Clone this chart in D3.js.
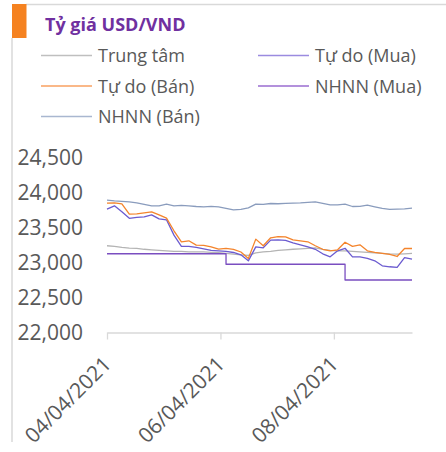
<!DOCTYPE html>
<html><head><meta charset="utf-8">
<script src="https://cdn.jsdelivr.net/npm/d3@7"></script>
<style>body{margin:0;background:#fff;} svg{display:block;font-family:"Open Sans",sans-serif;}</style>
</head><body><svg id="c" width="446" height="452"></svg>
<script>
const dates = ["2021-04-04","2021-04-08","2021-04-12","2021-04-16","2021-04-20","2021-04-24","2021-04-28",
"2021-05-02","2021-05-06","2021-05-10","2021-05-14","2021-05-18","2021-05-22","2021-05-26","2021-05-30",
"2021-06-03","2021-06-07","2021-06-11","2021-06-15","2021-06-19","2021-06-23","2021-06-27",
"2021-07-01","2021-07-05","2021-07-09","2021-07-13","2021-07-17","2021-07-21","2021-07-25","2021-07-29",
"2021-08-02","2021-08-06","2021-08-10","2021-08-14","2021-08-18","2021-08-22","2021-08-26","2021-08-30",
"2021-09-03","2021-09-07","2021-09-11","2021-09-15"];

const trungTam = [23239,23231,23217,23206,23203,23189,23181,23174,23167,23160,23160,23153,23153,23153,23146,23139,23131,23120,23110,23103,23139,23153,23160,23174,23181,23189,23196,23203,23210,23189,23174,23167,23167,23160,23153,23146,23139,23131,23124,23120,23124,23129];
const tuDoMua = [23763,23810,23724,23631,23646,23653,23681,23624,23610,23391,23229,23231,23217,23196,23174,23167,23160,23143,23110,23024,23224,23210,23320,23324,23317,23281,23253,23224,23189,23124,23081,23167,23203,23081,23081,23060,23024,22953,22939,22929,23071,23049];
const tuDoBan = [23849,23853,23839,23691,23696,23710,23724,23681,23634,23453,23296,23310,23249,23246,23224,23191,23203,23189,23150,23057,23334,23239,23353,23371,23367,23324,23310,23296,23239,23189,23167,23181,23289,23231,23253,23167,23146,23131,23117,23086,23200,23200];
const nhnnMua = [23125,23125,23125,23125,23125,23125,23125,23125,23125,23125,23125,23125,23125,23125,23125,23125,22975,22975,22975,22975,22975,22975,22975,22975,22975,22975,22975,22975,22975,22975,22975,22975,22750,22750,22750,22750,22750,22750,22750,22750,22750,22750];
const nhnnBan = [23891,23881,23874,23867,23853,23831,23810,23810,23834,23810,23817,23810,23800,23796,23803,23796,23774,23753,23760,23781,23834,23831,23843,23839,23846,23849,23853,23860,23867,23846,23824,23824,23834,23800,23803,23820,23796,23774,23760,23763,23767,23777];

const yTicks = [22000,22500,23000,23500,24000,24500];
const xTickDates = ["2021-04-04","2021-06-04","2021-08-04"];
const title = "Tỷ giá USD/VND";

const series = [
  {name:"Trung tâm", values:trungTam, color:"#b4b4b4", legend:"#bfbfbf", step:false},
  {name:"Tự do (Mua)", values:tuDoMua, color:"#6b5bd0", legend:"#9b8be0", step:false},
  {name:"Tự do (Bán)", values:tuDoBan, color:"#f4842c", legend:"#f8a060", step:false},
  {name:"NHNN (Mua)", values:nhnnMua, color:"#7a4ec0", legend:"#9a6cd0", step:true},
  {name:"NHNN (Bán)", values:nhnnBan, color:"#8a9cbd", legend:"#a9b7d0", step:false}
];

const parse = d3.timeParse("%Y-%m-%d");
const dts = dates.map(parse);
const svg = d3.select("#c");
svg.append("rect").attr("width",446).attr("height",452).attr("fill","#fff");

// frame
svg.append("line").attr("x1",26).attr("x2",446).attr("y1",4.5).attr("y2",4.5).attr("stroke","#d9d9d9").attr("stroke-width",1.5);
svg.append("line").attr("x1",12).attr("x2",12).attr("y1",38).attr("y2",442).attr("stroke","#d9d9d9").attr("stroke-width",1.5);
svg.append("rect").attr("x",12).attr("y",4).attr("width",14.5).attr("height",34).attr("fill","#f58220");

svg.append("text").attr("x",45).attr("y",30.5).text(title)
  .attr("fill","#7030a0").attr("font-weight","bold").attr("font-size",18);

// legend
const legPos = [[41,55.5],[258,55.5],[41,86],[258,86],[41,116.5]];
const order = [0,1,2,3,4];
order.forEach((si,k)=>{
  const s = series[si], p = legPos[k];
  svg.append("line").attr("x1",p[0]).attr("x2",p[0]+51).attr("y1",p[1]).attr("y2",p[1])
    .attr("stroke",s.legend).attr("stroke-width",1.5);
  svg.append("text").attr("x",p[0]+57).attr("y",p[1]+6.5).text(s.name)
    .attr("fill","#595959").attr("font-size",18);
});

const x = d3.scaleTime().domain([dts[0], dts[dts.length-1]]).range([107,412]);
const y = d3.scaleLinear().domain([22000,24500]).range([332.5,157.5]);

const xAxis = svg.append("g").attr("transform","translate(0,332.5)")
  .call(d3.axisBottom(x).tickValues(xTickDates.map(parse)).tickFormat(d3.timeFormat("%m/%d/%Y")).tickSize(7).tickSizeOuter(0));
xAxis.selectAll("path,line").attr("stroke","#d9d9d9").attr("stroke-width",1.3);
xAxis.selectAll("text").attr("fill","#595959").attr("font-size",21)
  .attr("font-family","'Open Sans',sans-serif")
  .attr("text-anchor","end").attr("dy",null).attr("y",null)
  .attr("transform","translate(5,33) rotate(-45)");

const yAxis = svg.append("g").attr("transform","translate(107,0)")
  .call(d3.axisLeft(y).tickValues(yTicks).tickFormat(d3.format(",")).tickSize(0).tickPadding(24));
yAxis.select(".domain").remove();
yAxis.selectAll("text").attr("fill","#595959").attr("font-size",21).attr("font-family","'Open Sans',sans-serif");

series.forEach(s=>{
  const line = d3.line().x((d,i)=>x(dts[i])).y(d=>y(d)).curve(s.step?d3.curveStepAfter:d3.curveLinear);
  svg.append("path").datum(s.values).attr("d",line).attr("fill","none")
    .attr("stroke",s.color).attr("stroke-width",1.3).attr("stroke-linejoin","round");
});
</script></body></html>
